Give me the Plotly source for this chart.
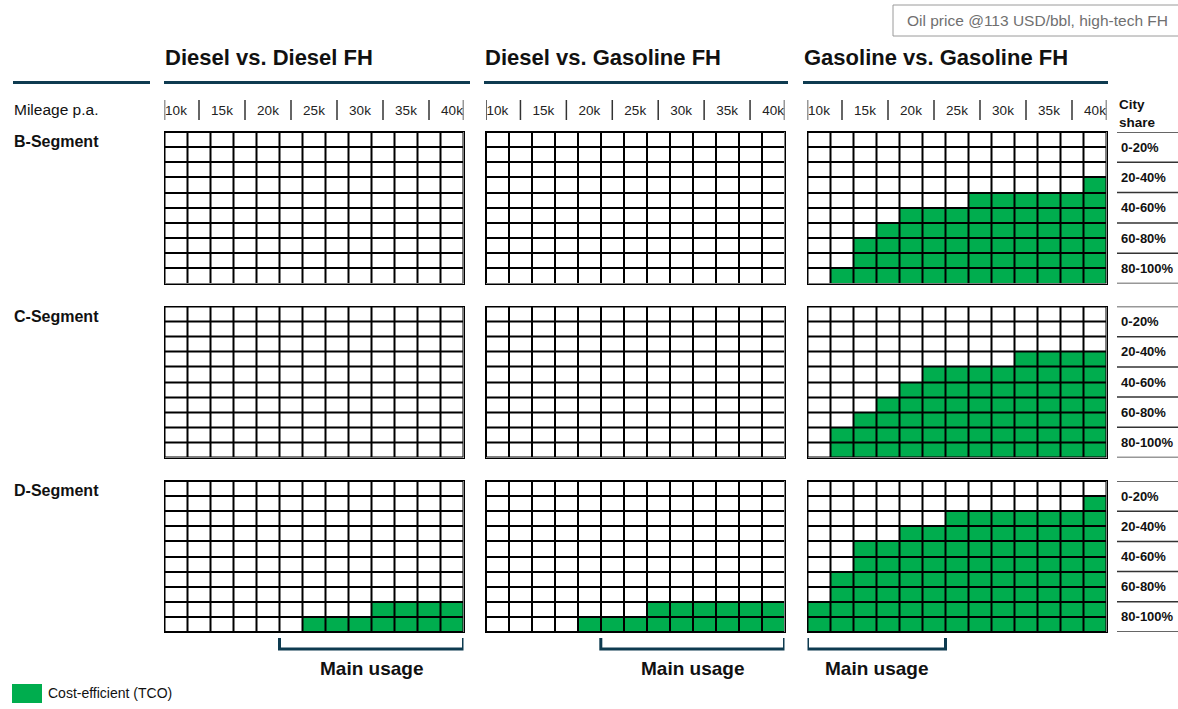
import plotly.graph_objects as go

W, H = 1178, 709

# ---------------- data ----------------
mileage_k = [10, 12.5, 15, 17.5, 20, 22.5, 25, 27.5, 30, 32.5, 35, 37.5, 40]
mileage_ticks = [10, 15, 20, 25, 30, 35, 40]
mileage_tick_labels = ["10k", "15k", "20k", "25k", "30k", "35k", "40k"]
city_share_mid = [5, 15, 25, 35, 45, 55, 65, 75, 85, 95]
city_share_band_mid = [10, 30, 50, 70, 90]
city_share_band_edges = [0, 20, 40, 60, 80, 100]
city_share_labels = ["0-20%", "20-40%", "40-60%", "60-80%", "80-100%"]
segments = ["B-Segment", "C-Segment", "D-Segment"]
comparisons = ["Diesel vs. Diesel FH", "Diesel vs. Gasoline FH", "Gasoline vs. Gasoline FH"]

# cost-efficient cells per mileage column, counted from the 100% city-share end
diesel_diesel_b = [0, 0, 0, 0, 0, 0, 0, 0, 0, 0, 0, 0, 0]
diesel_diesel_c = [0, 0, 0, 0, 0, 0, 0, 0, 0, 0, 0, 0, 0]
diesel_diesel_d = [0, 0, 0, 0, 0, 0, 1, 1, 1, 2, 2, 2, 2]
diesel_gasoline_b = [0, 0, 0, 0, 0, 0, 0, 0, 0, 0, 0, 0, 0]
diesel_gasoline_c = [0, 0, 0, 0, 0, 0, 0, 0, 0, 0, 0, 0, 0]
diesel_gasoline_d = [0, 0, 0, 0, 1, 1, 1, 2, 2, 2, 2, 2, 2]
gasoline_gasoline_b = [0, 1, 3, 4, 5, 5, 5, 6, 6, 6, 6, 6, 7]
gasoline_gasoline_c = [0, 2, 3, 4, 5, 6, 6, 6, 6, 7, 7, 7, 7]
gasoline_gasoline_d = [2, 4, 6, 6, 7, 7, 8, 8, 8, 8, 8, 8, 9]

main_usage_from = [22.5, 22.5, 10]
main_usage_to = [40, 40, 22.5]

legend_label = "Cost-efficient (TCO)"
scenario_label = "Oil price @113 USD/bbl, high-tech FH"

grid_counts = [
    [diesel_diesel_b, diesel_gasoline_b, gasoline_gasoline_b],
    [diesel_diesel_c, diesel_gasoline_c, gasoline_gasoline_c],
    [diesel_diesel_d, diesel_gasoline_d, gasoline_gasoline_d],
]

# ---------------- styling ----------------
FONT = "Liberation Sans, Arial, sans-serif"
GREEN = "#00AD4E"
NAVY = "#0E3B50"
TXT = "#111111"


def px(x):
    return x / W


def py(y):
    return 1 - y / H


col_dom = [(164.5, 463.5), (486.0, 784.5), (807.5, 1106.5)]
row_dom = [(132.0, 283.5), (306.5, 457.5), (481.0, 632.0)]

step = mileage_k[1] - mileage_k[0]
x_lo = mileage_k[0] - step / 2
x_hi = mileage_k[-1] + step / 2

fig = go.Figure()
layout = dict(
    width=W, height=H,
    margin=dict(l=0, r=0, t=0, b=0),
    paper_bgcolor="white",
    plot_bgcolor="black",
    showlegend=False,
    font=dict(family=FONT, color=TXT),
)
shapes = []
annotations = []

for r in range(3):
    for c in range(3):
        k = r * 3 + c + 1
        counts = grid_counts[r][c]
        n_rows = len(city_share_mid)
        z = [[1 if (n_rows - 1 - i) < counts[j] else 0 for j in range(len(mileage_k))]
             for i in range(n_rows)]
        fig.add_trace(go.Heatmap(
            x=mileage_k, y=city_share_mid, z=z,
            colorscale=[[0, "white"], [1, GREEN]], zmin=0, zmax=1,
            showscale=False, xgap=2, ygap=2,
            xaxis=f"x{k}", yaxis=f"y{k}", hoverinfo="skip",
        ))
        xa = dict(
            domain=[px(col_dom[c][0]), px(col_dom[c][1])], anchor=f"y{k}",
            range=[x_lo, x_hi], showgrid=False, zeroline=False,
            showline=True, mirror=True, linecolor="black", linewidth=1,
            ticks="", fixedrange=True,
        )
        if r == 0:
            xa.update(side="top", tickvals=mileage_ticks, ticktext=mileage_tick_labels,
                      tickfont=dict(size=13.5, color="#222222", family=FONT),
                      ticklabelstandoff=11, showticklabels=True)
        else:
            xa.update(showticklabels=False)
        ya = dict(
            domain=[py(row_dom[r][1]), py(row_dom[r][0])], anchor=f"x{k}",
            range=[100, 0], showgrid=False, zeroline=False,
            showline=True, mirror=True, linecolor="black", linewidth=1,
            ticks="", fixedrange=True,
        )
        if c == 2:
            ya.update(side="right", tickvals=city_share_band_mid, ticktext=city_share_labels,
                      tickfont=dict(size=13, color=TXT, family=FONT, weight="bold"),
                      ticklabelstandoff=11, showticklabels=True)
            for e in city_share_band_edges:
                shapes.append(dict(type="line", xref="paper", yref=f"y{k}",
                                   x0=px(1117), x1=px(1180), y0=e, y1=e,
                                   line=dict(color="#333333", width=1.5)))
        else:
            ya.update(showticklabels=False)
        layout[f"xaxis{k}"] = xa
        layout[f"yaxis{k}"] = ya

# mileage separators above the top row
seps = [x_lo] + [(mileage_ticks[i] + mileage_ticks[i + 1]) / 2 for i in range(len(mileage_ticks) - 1)] + [x_hi]
for c in range(3):
    for s in seps:
        shapes.append(dict(type="line", xref=f"x{c + 1}", yref="paper",
                           x0=s, x1=s, y0=py(100), y1=py(120),
                           line=dict(color="#333333", width=1.5)))

# header titles and rules
for c in range(3):
    annotations.append(dict(text=f"<b>{comparisons[c]}</b>", xref="paper", yref="paper",
                            x=px([163, 483, 802][c]), y=py(58), xanchor="left", yanchor="middle",
                            showarrow=False, font=dict(size=22, color=TXT, family=FONT)))
for (a, b) in [(13, 150), (164, 470), (484, 788), (803, 1108)]:
    shapes.append(dict(type="line", xref="paper", yref="paper",
                       x0=px(a), x1=px(b), y0=py(82.5), y1=py(82.5),
                       line=dict(color=NAVY, width=3)))

# left labels
annotations.append(dict(text="Mileage p.a.", xref="paper", yref="paper", x=px(12), y=py(110),
                        xanchor="left", yanchor="middle", showarrow=False,
                        font=dict(size=15.5, color=TXT, family=FONT)))
for r, yy in enumerate([141, 316, 490]):
    annotations.append(dict(text=f"<b>{segments[r]}</b>", xref="paper", yref="paper",
                            x=px(12), y=py(yy), xanchor="left", yanchor="middle",
                            showarrow=False, font=dict(size=16, color=TXT, family=FONT)))

# city share header
annotations.append(dict(text="<b>City<br>share</b>", xref="paper", yref="paper",
                        x=px(1117), y=py(114), xanchor="left", yanchor="middle",
                        align="left", showarrow=False,
                        font=dict(size=13.5, color=TXT, family=FONT)))

# main usage brackets
for c in range(3):
    k = 6 + c + 1
    a = main_usage_from[c] - step / 2
    b = main_usage_to[c] + step / 2
    shapes.append(dict(type="path", xref=f"x{k}", yref="paper",
                       path=f"M {a},{py(638)} L {a},{py(649)} L {b},{py(649)} L {b},{py(638)}",
                       line=dict(color=NAVY, width=3)))
    annotations.append(dict(text="<b>Main usage</b>", xref=f"x{k}", yref="paper",
                            x=(a + b) / 2, y=py(668), xanchor="center", yanchor="middle",
                            showarrow=False, font=dict(size=19, color=TXT, family=FONT)))

# legend
shapes.append(dict(type="rect", xref="paper", yref="paper", x0=px(12), x1=px(42),
                   y0=py(703), y1=py(684), fillcolor=GREEN, line=dict(width=0)))
annotations.append(dict(text=legend_label, xref="paper", yref="paper", x=px(46), y=py(693),
                        xanchor="left", yanchor="middle", showarrow=False,
                        font=dict(size=14, color=TXT, family=FONT)))

# scenario box
shapes.append(dict(type="rect", xref="paper", yref="paper", x0=px(893), x1=px(1190),
                   y0=py(36), y1=py(5), line=dict(color="#9a9a9a", width=1), fillcolor="rgba(0,0,0,0)"))
annotations.append(dict(text=scenario_label, xref="paper", yref="paper", x=px(905), y=py(20.5),
                        xanchor="left", yanchor="middle", showarrow=False,
                        font=dict(size=15.5, color="#707070", family=FONT)))

layout["shapes"] = shapes
layout["annotations"] = annotations
fig.update_layout(**layout)
fig.write_html("out.html", config={"displayModeBar": False},
               post_script="document.body.style.margin='0';document.body.style.overflow='hidden';")
